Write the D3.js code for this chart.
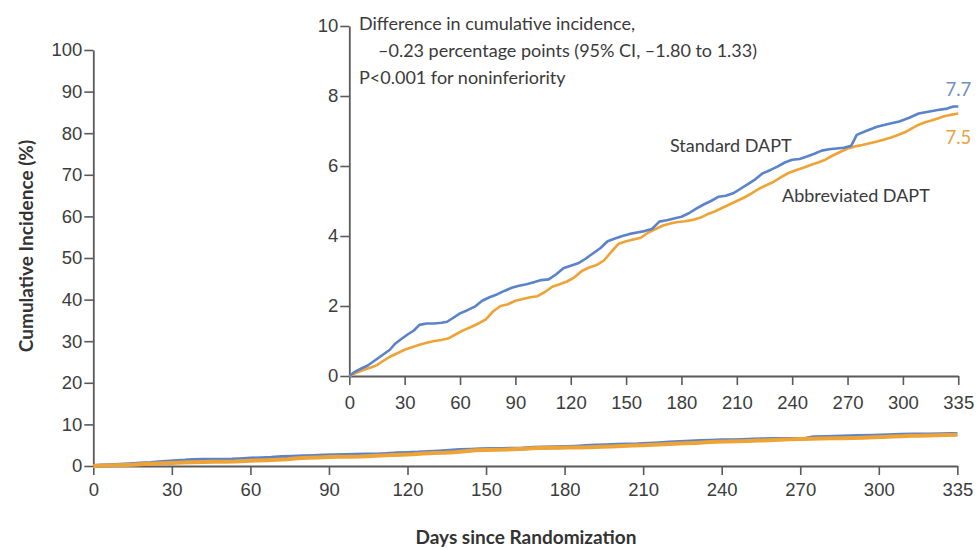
<!DOCTYPE html>
<html>
<head>
<meta charset="utf-8">
<script src="https://cdn.jsdelivr.net/npm/d3@7"></script>
<style>
  html, body { margin: 0; padding: 0; background: #fff; }
  svg { display: block; font-family: Lato, "Open Sans", sans-serif; }
  .tick text { fill: #3c3c3c; }
</style>
</head>
<body>
<svg id="chart" width="977" height="550"></svg>
<script>
// Cumulative incidence (%) by day since randomization
const standardDays = [0,3,6,10,14,18,22,25,28,32,35,38,42,46,50,53,56,60,64,68,72,76,80,84,88,92,96,100,104,108,112,116,120,124,128,132,136,140,144,148,152,156,160,164,168,172,176,180,184,188,192,196,200,204,208,212,216,220,224,228,232,236,240,244,248,252,256,260,264,268,272,275,280,286,292,298,304,310,316,322,328,332,335];
const standardValues = [0,0.12,0.2,0.3,0.45,0.6,0.75,0.93,1.05,1.2,1.3,1.46,1.5,1.5,1.52,1.55,1.65,1.79,1.88,1.98,2.15,2.25,2.33,2.43,2.52,2.58,2.62,2.68,2.74,2.76,2.9,3.08,3.15,3.22,3.35,3.5,3.65,3.85,3.93,4.0,4.06,4.1,4.14,4.2,4.41,4.45,4.5,4.55,4.65,4.78,4.9,5.0,5.12,5.15,5.22,5.35,5.48,5.62,5.79,5.88,5.98,6.1,6.18,6.2,6.27,6.35,6.44,6.48,6.5,6.52,6.58,6.89,7.0,7.12,7.2,7.27,7.38,7.5,7.55,7.6,7.64,7.7,7.7];

const abbreviatedDays = [0,4,8,12,15,18,22,26,30,34,38,42,46,50,54,58,62,66,70,74,78,82,86,90,94,98,102,106,110,114,118,122,126,130,134,138,142,146,150,154,158,162,166,170,174,178,182,186,190,194,198,202,206,210,214,218,222,226,230,234,238,242,246,250,254,258,262,266,270,274,278,282,286,290,294,298,302,306,310,314,318,322,326,330,335];
const abbreviatedValues = [0,0.1,0.18,0.25,0.31,0.42,0.55,0.65,0.75,0.82,0.89,0.95,1.0,1.03,1.08,1.2,1.31,1.4,1.5,1.62,1.85,2.0,2.05,2.15,2.2,2.25,2.28,2.4,2.55,2.62,2.7,2.82,3.0,3.1,3.17,3.3,3.55,3.78,3.85,3.9,3.95,4.1,4.2,4.3,4.36,4.4,4.42,4.46,4.52,4.62,4.7,4.8,4.9,5.0,5.1,5.22,5.35,5.45,5.55,5.68,5.8,5.88,5.95,6.03,6.1,6.18,6.3,6.4,6.5,6.56,6.6,6.65,6.7,6.76,6.82,6.9,6.98,7.08,7.18,7.25,7.3,7.36,7.42,7.46,7.5];

const dayTicks = [0,30,60,90,120,150,180,210,240,270,300,335];
const mainYTicks = [0,10,20,30,40,50,60,70,80,90,100];
const insetYTicks = [0,2,4,6,8,10];

const seriesNames = ["Standard DAPT", "Abbreviated DAPT"];
const finalLabels = ["7.7", "7.5"];
const noteLines = [
  "Difference in cumulative incidence,",
  "\u20130.23 percentage points (95% CI, \u20131.80 to 1.33)",
  "P<0.001 for noninferiority"
];
const xTitle = "Days since Randomization";
const yTitle = "Cumulative Incidence (%)";

const blue = "#5b83c9";
const orange = "#eea336";
const axisColor = "#5a5a5a";
const textColor = "#3a3a3a";

const standard = standardDays.map((d, i) => ({ day: d, v: standardValues[i] }));
const abbreviated = abbreviatedDays.map((d, i) => ({ day: d, v: abbreviatedValues[i] }));

const svg = d3.select("#chart");

// The last interval (300 to 335) is drawn at the same width as a 30-day step
function dayScale(x0, step) {
  return d3.scaleLinear().domain([0, 300, 335]).range([x0, x0 + step * 10, x0 + step * 11]);
}

function styleAxis(g, fontSize) {
  g.select(".domain").attr("stroke", axisColor).attr("stroke-width", 1.8);
  g.selectAll(".tick line").attr("stroke", axisColor).attr("stroke-width", 1.6);
  g.selectAll(".tick text").attr("font-size", fontSize).attr("fill", textColor);
}

// ---- Main panel (0-100%) ----
const mx = dayScale(93.3, 78.55);
const my = d3.scaleLinear().domain([0, 100]).range([466, 50]);

const mainX = svg.append("g").attr("transform", `translate(0,${my(0)})`)
  .call(d3.axisBottom(mx).tickValues(dayTicks).tickSize(9).tickPadding(8).tickSizeOuter(0));
styleAxis(mainX, 18.5);

const mainY = svg.append("g").attr("transform", `translate(${mx(0)},0)`)
  .call(d3.axisLeft(my).tickValues(mainYTicks).tickSize(9).tickPadding(2).tickSizeOuter(0));
styleAxis(mainY, 18.5);

const mainLine = d3.line().x(d => mx(d.day)).y(d => my(d.v));
svg.append("path").datum(standard).attr("d", mainLine)
  .attr("fill", "none").attr("stroke", blue).attr("stroke-width", 4);
svg.append("path").datum(abbreviated).attr("d", mainLine)
  .attr("fill", "none").attr("stroke", orange).attr("stroke-width", 4);

svg.append("text").attr("x", 526).attr("y", 544).attr("text-anchor", "middle")
  .attr("font-size", 19).attr("font-weight", "bold").attr("fill", "#333").text(xTitle);
svg.append("text").attr("transform", "translate(33,246) rotate(-90)").attr("text-anchor", "middle")
  .attr("font-size", 19).attr("font-weight", "bold").attr("fill", "#333").text(yTitle);

// ---- Inset (0-10%) ----
const ix = dayScale(349.3, 55.36);
const iy = d3.scaleLinear().domain([0, 10]).range([376, 26]);

const insetX = svg.append("g").attr("transform", `translate(0,${iy(0)})`)
  .call(d3.axisBottom(ix).tickValues(dayTicks).tickSize(9).tickPadding(11).tickSizeOuter(0));
styleAxis(insetX, 18.5);

const insetY = svg.append("g").attr("transform", `translate(${ix(0)},0)`)
  .call(d3.axisLeft(iy).tickValues(insetYTicks).tickSize(9).tickPadding(2).tickSizeOuter(0));
styleAxis(insetY, 18.5);

const insetLine = d3.line().x(d => ix(d.day)).y(d => iy(d.v));
svg.append("path").datum(abbreviated).attr("d", insetLine)
  .attr("fill", "none").attr("stroke", orange).attr("stroke-width", 2.6).attr("stroke-linejoin", "round");
svg.append("path").datum(standard).attr("d", insetLine)
  .attr("fill", "none").attr("stroke", blue).attr("stroke-width", 2.6).attr("stroke-linejoin", "round");

// end-of-follow-up values
const lastStd = standard[standard.length - 1];
const lastAbb = abbreviated[abbreviated.length - 1];
svg.append("text").attr("x", ix(lastStd.day) + 13).attr("y", iy(lastStd.v) - 11)
  .attr("text-anchor", "end").attr("font-size", 18.5).attr("fill", "#6f8fc6").text(finalLabels[0]);
svg.append("text").attr("x", ix(lastAbb.day) + 13).attr("y", iy(lastAbb.v) + 30)
  .attr("text-anchor", "end").attr("font-size", 18.5).attr("fill", "#e9a23e").text(finalLabels[1]);

// series labels
svg.append("text").attr("x", 670).attr("y", 152).attr("font-size", 18).attr("fill", textColor).text(seriesNames[0]);
svg.append("text").attr("x", 782).attr("y", 202).attr("font-size", 18).attr("fill", textColor).text(seriesNames[1]);

// note on the difference between groups
const noteX = [359, 378, 359];
const noteY = [30, 57, 84];
noteLines.forEach((t, i) => {
  svg.append("text").attr("x", noteX[i]).attr("y", noteY[i])
    .attr("font-size", 18).attr("fill", textColor).text(t);
});
</script>
</body>
</html>
